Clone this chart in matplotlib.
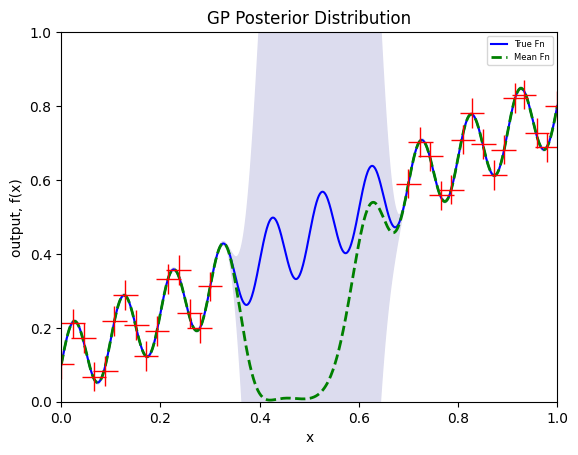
import matplotlib
matplotlib.use('Agg')
import matplotlib.pyplot as plt
import numpy as np

obs_x = [0.000, 0.023, 0.045, 0.066, 0.089, 0.107, 0.129, 0.151, 0.171, 0.193,
         0.216, 0.237, 0.259, 0.279, 0.300,
         0.700, 0.724, 0.744, 0.766, 0.786, 0.810, 0.828, 0.851, 0.873, 0.892,
         0.915, 0.933, 0.959, 0.980, 1.000]
obs_y = [0.101, 0.212, 0.173, 0.068, 0.083, 0.219, 0.289, 0.208, 0.124, 0.192,
         0.332, 0.357, 0.239, 0.199, 0.312,
         0.590, 0.703, 0.664, 0.558, 0.574, 0.709, 0.781, 0.697, 0.614, 0.682,
         0.822, 0.831, 0.727, 0.688, 0.801]
obs_xerr = 0.025
obs_yerr = 0.04

# true function: offset + slope*x + amp*sin(2*pi*freq*x)
offset, slope, amp, freq = 0.1, 0.7, 0.1, 10.0


def true_fn(x):
    return offset + slope * x + amp * np.sin(2 * np.pi * freq * x)


# GP with RBF kernel, trained on the true function outside the gap
gap = (0.334, 0.69)
length, sig_f, noise = 0.05, 1.0, 1e-5


def rbf(a, b):
    return sig_f ** 2 * np.exp(-0.5 * (a[:, None] - b[None, :]) ** 2 / length ** 2)


xs = np.linspace(0, 1, 1000)
train_x = np.concatenate([np.linspace(0, gap[0], 34), np.linspace(gap[1], 1, 32)])
train_y = true_fn(train_x)

K = rbf(train_x, train_x) + noise * np.eye(len(train_x))
Ks = rbf(xs, train_x)
alpha = np.linalg.solve(K, train_y)
mean = Ks @ alpha
var = sig_f ** 2 - np.sum(Ks * np.linalg.solve(K, Ks.T).T, axis=1)
std = np.sqrt(np.clip(var, 0, None))

fig, ax = plt.subplots(figsize=(6.4, 4.8), dpi=100)
ax.fill_between(xs, mean - 2 * std, mean + 2 * std, color='#dcdcee')
ax.plot(xs, true_fn(xs), color='blue', label='True Fn')
ax.plot(xs, mean, color='green', linestyle='--', linewidth=2, label='Mean Fn')
ax.errorbar(obs_x, obs_y, xerr=obs_xerr, yerr=obs_yerr, fmt='none',
            ecolor='red', elinewidth=1)
ax.set_xlim(0, 1)
ax.set_ylim(0, 1)
ax.set_title('GP Posterior Distribution')
ax.set_xlabel('x')
ax.set_ylabel('output, f(x)')
ax.legend(loc='upper right', fontsize=6)
fig.savefig('out.png', bbox_inches='tight')
